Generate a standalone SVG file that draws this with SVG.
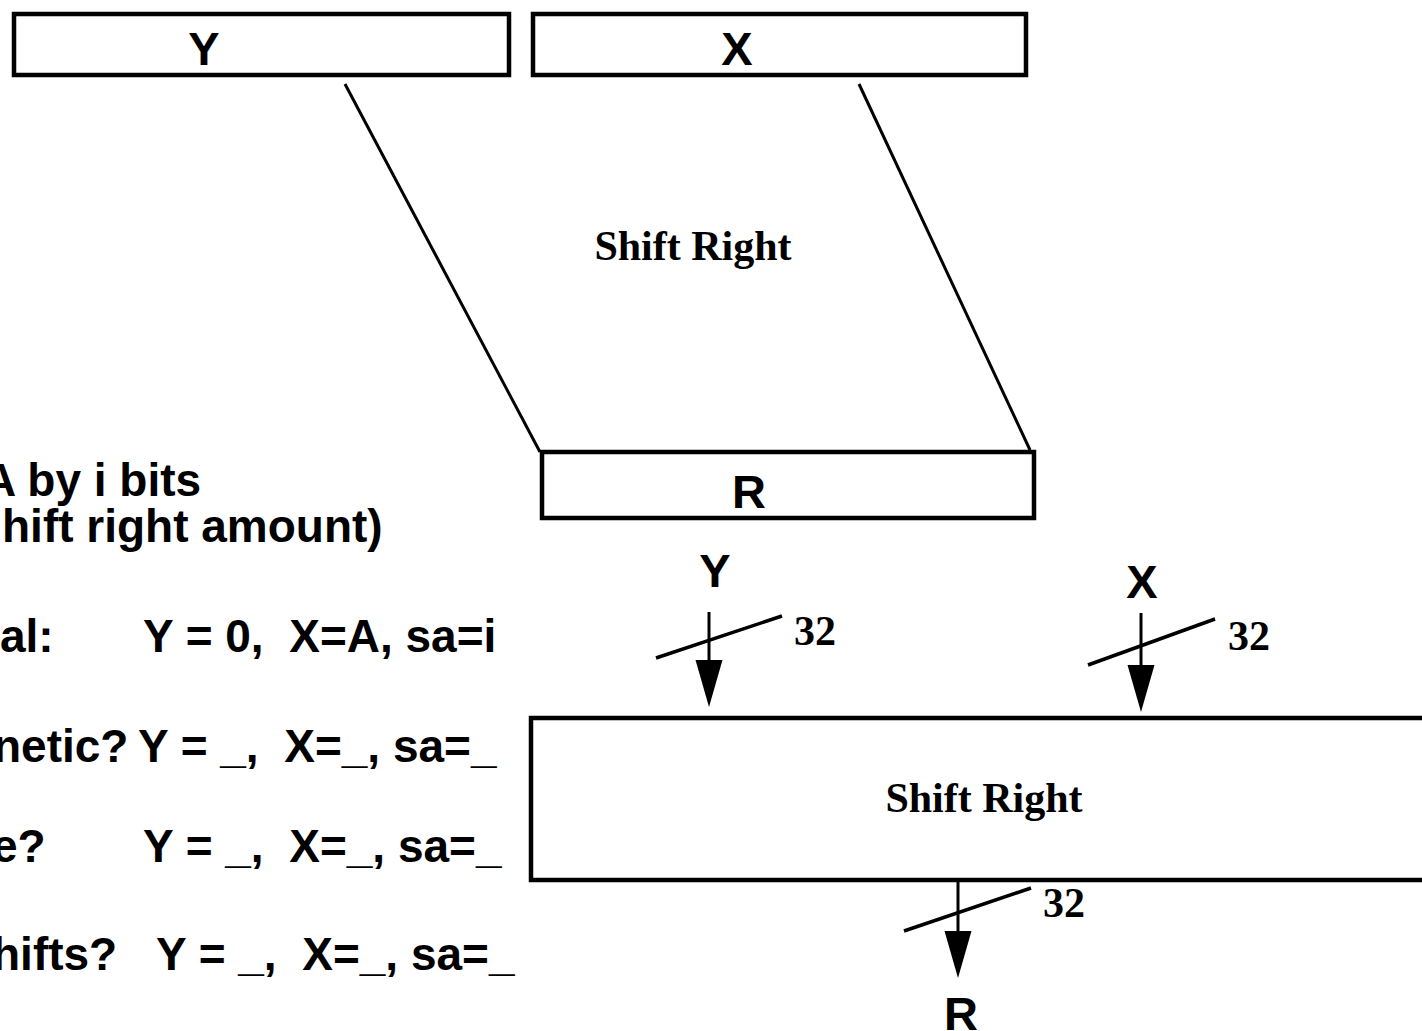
<svg xmlns="http://www.w3.org/2000/svg" width="1422" height="1031" viewBox="0 0 1422 1031">
  <style>
    .box { fill: #fff; stroke: #000; stroke-width: 4.5; }
    .wire { fill: none; stroke: #000; stroke-width: 3; }
    .slash { fill: none; stroke: #000; stroke-width: 3.5; }
    .sans { font-family: "Liberation Sans", Arial, sans-serif; font-weight: bold; fill: #000; }
    .lbl { font-size: 47px; text-anchor: middle; }
    .note { font-size: 46px; white-space: pre; }
    .serif { font-family: "Liberation Serif", "Times New Roman", serif; font-weight: bold; fill: #000; font-size: 42px; }
  </style>
  <defs>
    <marker id="head" viewBox="0 -14 47 28" markerWidth="47" markerHeight="28" refX="37" refY="0" orient="auto" markerUnits="userSpaceOnUse">
      <path d="M0,-13.5 L47,0 L0,13.5 z" fill="#000"/>
    </marker>
  </defs>

  <rect width="1422" height="1031" fill="#fff"/>

  <!-- upper view: Y and X registers feeding a slanted shifter into R -->
  <g id="reg-y-top">
    <rect class="box" x="14" y="14" width="495" height="61"/>
    <text class="sans lbl" x="204" y="65">Y</text>
  </g>
  <g id="reg-x-top">
    <rect class="box" x="533" y="14" width="493" height="61"/>
    <text class="sans lbl" x="737" y="65">X</text>
  </g>
  <g id="shifter-top">
    <line class="wire" x1="345" y1="84" x2="540" y2="452"/>
    <line class="wire" x1="859" y1="84" x2="1030" y2="450"/>
    <text class="serif" x="693" y="260" text-anchor="middle">Shift Right</text>
  </g>
  <g id="reg-r-top">
    <rect class="box" x="542" y="452" width="492" height="66"/>
    <text class="sans lbl" x="749" y="508">R</text>
  </g>

  <!-- notes on the left -->
  <g id="notes">
    <text class="sans note" x="-17" y="496">A by i bits</text>
    <text class="sans note" x="2" y="542">hift right amount)</text>
    <text class="sans note" y="652"><tspan x="0">al:</tspan><tspan x="143">Y = 0,  X=A, sa=i</tspan></text>
    <text class="sans note" y="762"><tspan x="-7">netic?</tspan><tspan x="138">Y = _,  X=_, sa=_</tspan></text>
    <text class="sans note" y="862"><tspan x="-8">e?</tspan><tspan x="143">Y = _,  X=_, sa=_</tspan></text>
    <text class="sans note" y="970"><tspan x="-8">hifts?</tspan><tspan x="156">Y = _,  X=_, sa=_</tspan></text>
  </g>

  <!-- lower view: block symbol of the shifter -->
  <g id="shifter-block">
    <rect class="box" x="531" y="718" width="900" height="162"/>
    <text class="serif" x="984" y="812" text-anchor="middle">Shift Right</text>
  </g>
  <g id="in-y">
    <text class="sans lbl" x="715" y="587">Y</text>
  </g>
  <g id="in-x">
    <text class="sans lbl" x="1142" y="598">X</text>
  </g>
  <g id="out-r">
    <text class="sans lbl" x="961" y="1030">R</text>
  </g>

  <g id="connectors">
    <!-- Y input, 32 bits -->
    <line class="wire" x1="709" y1="612" x2="709" y2="697" marker-end="url(#head)"/>
    <line class="slash" x1="656" y1="658" x2="782" y2="616"/>
    <text class="serif" x="794" y="645">32</text>
    <!-- X input, 32 bits -->
    <line class="wire" x1="1141" y1="613" x2="1141" y2="702" marker-end="url(#head)"/>
    <line class="slash" x1="1088" y1="665" x2="1215" y2="619"/>
    <text class="serif" x="1228" y="650">32</text>
    <!-- R output, 32 bits -->
    <line class="wire" x1="958" y1="882" x2="958" y2="968" marker-end="url(#head)"/>
    <line class="slash" x1="904" y1="931" x2="1031" y2="888"/>
    <text class="serif" x="1043" y="917">32</text>
  </g>
</svg>
